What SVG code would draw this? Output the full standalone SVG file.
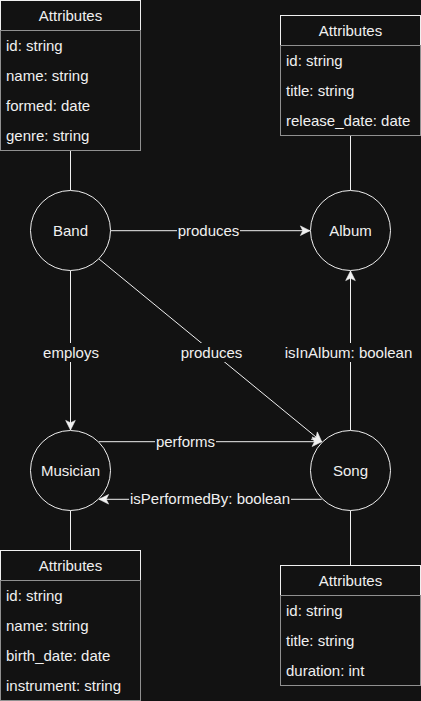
<svg xmlns="http://www.w3.org/2000/svg" width="421" height="701" viewBox="0 0 421 701">
<style>
text{font-family:"Liberation Sans",Arial,sans-serif;font-size:15px;fill:#f0f0f0}
.c{text-anchor:middle}
.node{fill:#121212;stroke:#f0f0f0;stroke-width:1}
.hdr{fill:#121212;stroke:#f0f0f0;stroke-width:1}
.rows{fill:#121212;stroke:#909090;stroke-width:1}
.e{fill:none;stroke:#f0f0f0;stroke-width:1}
.lbg{fill:#121212}
</style>
<defs>
<marker id="arr" markerUnits="userSpaceOnUse" markerWidth="12" markerHeight="12" viewBox="-9 -5 10 10" refX="0" refY="0" orient="auto">
<path d="M0,0 L-8,-4 L-6,0 L-8,4 Z" fill="#f0f0f0" stroke="#f0f0f0" stroke-width="0.5"/>
</marker>
</defs>
<rect width="421" height="701" fill="#121212"/>

<g id="connectors">
<line class="e" x1="70.5" y1="150.5" x2="70.5" y2="190.5"/>
<line class="e" x1="350.5" y1="135.5" x2="350.5" y2="190.5"/>
<line class="e" x1="70.5" y1="510.5" x2="70.5" y2="550.5"/>
<line class="e" x1="350.5" y1="510.5" x2="350.5" y2="565.5"/>
<line class="e" x1="110.5" y1="230.7" x2="310" y2="230.7" marker-end="url(#arr)"/>
<line class="e" x1="98.8" y1="258.8" x2="321.7" y2="441.7" marker-end="url(#arr)"/>
<line class="e" x1="70.5" y1="270.5" x2="70.5" y2="430" marker-end="url(#arr)"/>
<line class="e" x1="350.5" y1="430.5" x2="350.5" y2="271" marker-end="url(#arr)"/>
<line class="e" x1="98.8" y1="441.7" x2="321.7" y2="441.7" marker-end="url(#arr)"/>
<line class="e" x1="321.7" y1="499.3" x2="99" y2="499.3" marker-end="url(#arr)"/>
<rect class="lbg" x="177" y="223" width="63" height="17"/>
<text class="c" x="208.5" y="236">produces</text>
<rect class="lbg" x="42" y="343" width="58" height="19"/>
<text class="c" x="71" y="358">employs</text>
<rect class="lbg" x="180" y="343" width="63" height="19"/>
<text class="c" x="211.5" y="358">produces</text>
<rect class="lbg" x="284" y="343" width="129" height="19"/>
<text class="c" x="348.5" y="358">isInAlbum: boolean</text>
<rect class="lbg" x="155" y="434" width="61" height="17"/>
<text class="c" x="185.5" y="447">performs</text>
<rect class="lbg" x="129" y="491" width="162" height="17"/>
<text class="c" x="210" y="504">isPerformedBy: boolean</text>
</g>

<g id="band">
<circle class="node" cx="70.5" cy="230.5" r="40"/>
<text class="c" x="70.5" y="236">Band</text>
</g>
<g id="album">
<circle class="node" cx="350.5" cy="230.5" r="40"/>
<text class="c" x="350.5" y="236">Album</text>
</g>
<g id="musician">
<circle class="node" cx="70.5" cy="470.5" r="40"/>
<text class="c" x="70.5" y="476">Musician</text>
</g>
<g id="song">
<circle class="node" cx="350.5" cy="470.5" r="40"/>
<text class="c" x="350.5" y="476">Song</text>
</g>

<g id="band-attributes">
<rect class="hdr" x="0.5" y="0.5" width="140" height="30"/>
<rect class="rows" x="0.5" y="30.5" width="140" height="120"/>
<text class="c" x="70.5" y="21">Attributes</text>
<text x="6" y="51">id: string</text>
<text x="6" y="81">name: string</text>
<text x="6" y="111">formed: date</text>
<text x="6" y="141">genre: string</text>
</g>
<g id="album-attributes">
<rect class="hdr" x="280.5" y="15.5" width="140" height="30"/>
<rect class="rows" x="280.5" y="45.5" width="140" height="90"/>
<text class="c" x="350.5" y="36">Attributes</text>
<text x="286" y="66">id: string</text>
<text x="286" y="96">title: string</text>
<text x="286" y="126">release_date: date</text>
</g>
<g id="musician-attributes">
<rect class="hdr" x="0.5" y="550.5" width="140" height="30"/>
<rect class="rows" x="0.5" y="580.5" width="140" height="120"/>
<text class="c" x="70.5" y="571">Attributes</text>
<text x="6" y="601">id: string</text>
<text x="6" y="631">name: string</text>
<text x="6" y="661">birth_date: date</text>
<text x="6" y="691">instrument: string</text>
</g>
<g id="song-attributes">
<rect class="hdr" x="280.5" y="565.5" width="140" height="30"/>
<rect class="rows" x="280.5" y="595.5" width="140" height="90"/>
<text class="c" x="350.5" y="586">Attributes</text>
<text x="286" y="616">id: string</text>
<text x="286" y="646">title: string</text>
<text x="286" y="676">duration: int</text>
</g>
</svg>
